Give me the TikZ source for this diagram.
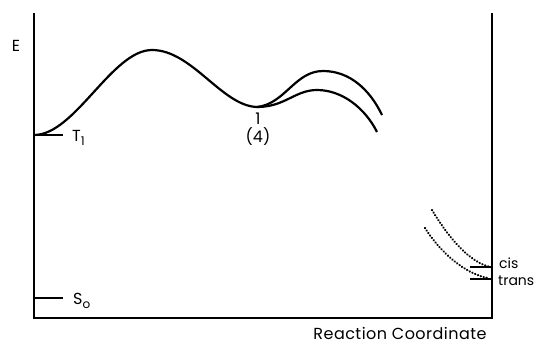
\documentclass[tikz,border=0pt]{standalone}
\usepackage{fontspec}
\setmainfont{Poppins}
\usepackage{tikz}
\usetikzlibrary{positioning}

\newcommand{\lvsub}[1]{\raisebox{-0.5ex}{\fontsize{12}{12}\selectfont #1}}

\begin{document}
\begin{tikzpicture}[x=1pt,y=-1pt,font=\fontsize{16}{18}\selectfont,
  level/.style={line width=1.3pt},
  lvlabel/.style={anchor=base west, inner sep=0pt},
  dotcurve/.style={line width=2.4pt, line cap=round, dash pattern=on 0.1pt off 2.9pt}]
\useasboundingbox (0,0) rectangle (546,346);
% axes
\draw[line width=1.4pt] (34,13) -- (34,318) -- (492,318) -- (492,13);
\node (E) at (16,46) {E};
\node (rc) at (400,333) {\addfontfeature{LetterSpace=3}Reaction Coordinate};
% levels
\draw[level] (34,135) -- (63,135);
\node[lvlabel] (T1) at (72,141) {T\lvsub{1}};
\draw[level] (34,298) -- (63,298);
\node[lvlabel] (S0) at (73,304) {S\lvsub{o}};
\draw[level] (470,267) -- (492,267);
\node[lvlabel, font=\fontsize{14}{16}\selectfont] (cis) at (499,268) {cis};
\draw[level] (470,279) -- (492,279);
\node[lvlabel, font=\fontsize{14}{16}\selectfont] (trans) at (498,285) {trans};
% energy curve
\draw[line width=2.2pt] (34,135) .. controls (75,135) and (112,50) .. (152,50)
  .. controls (192,50) and (222,106) .. (257,107);
\draw[line width=2.2pt] (257,107) .. controls (285,104) and (295,71) .. (323,71)
  .. controls (350,71) and (370,90) .. (382,115);
\draw[line width=2.2pt] (257,107) .. controls (285,107) and (295,90) .. (317,90)
  .. controls (342,90) and (365,108) .. (377,132);
\node[below=2pt] (min) at (258,107) {1};
\node[below=-4pt of min] (four) {(4)};
% product curves
\draw[dotcurve] (432,210) .. controls (450,240) and (470,262) .. (490,267);
\draw[dotcurve] (425,228) .. controls (440,252) and (465,274) .. (488,278);
\end{tikzpicture}
\end{document}
